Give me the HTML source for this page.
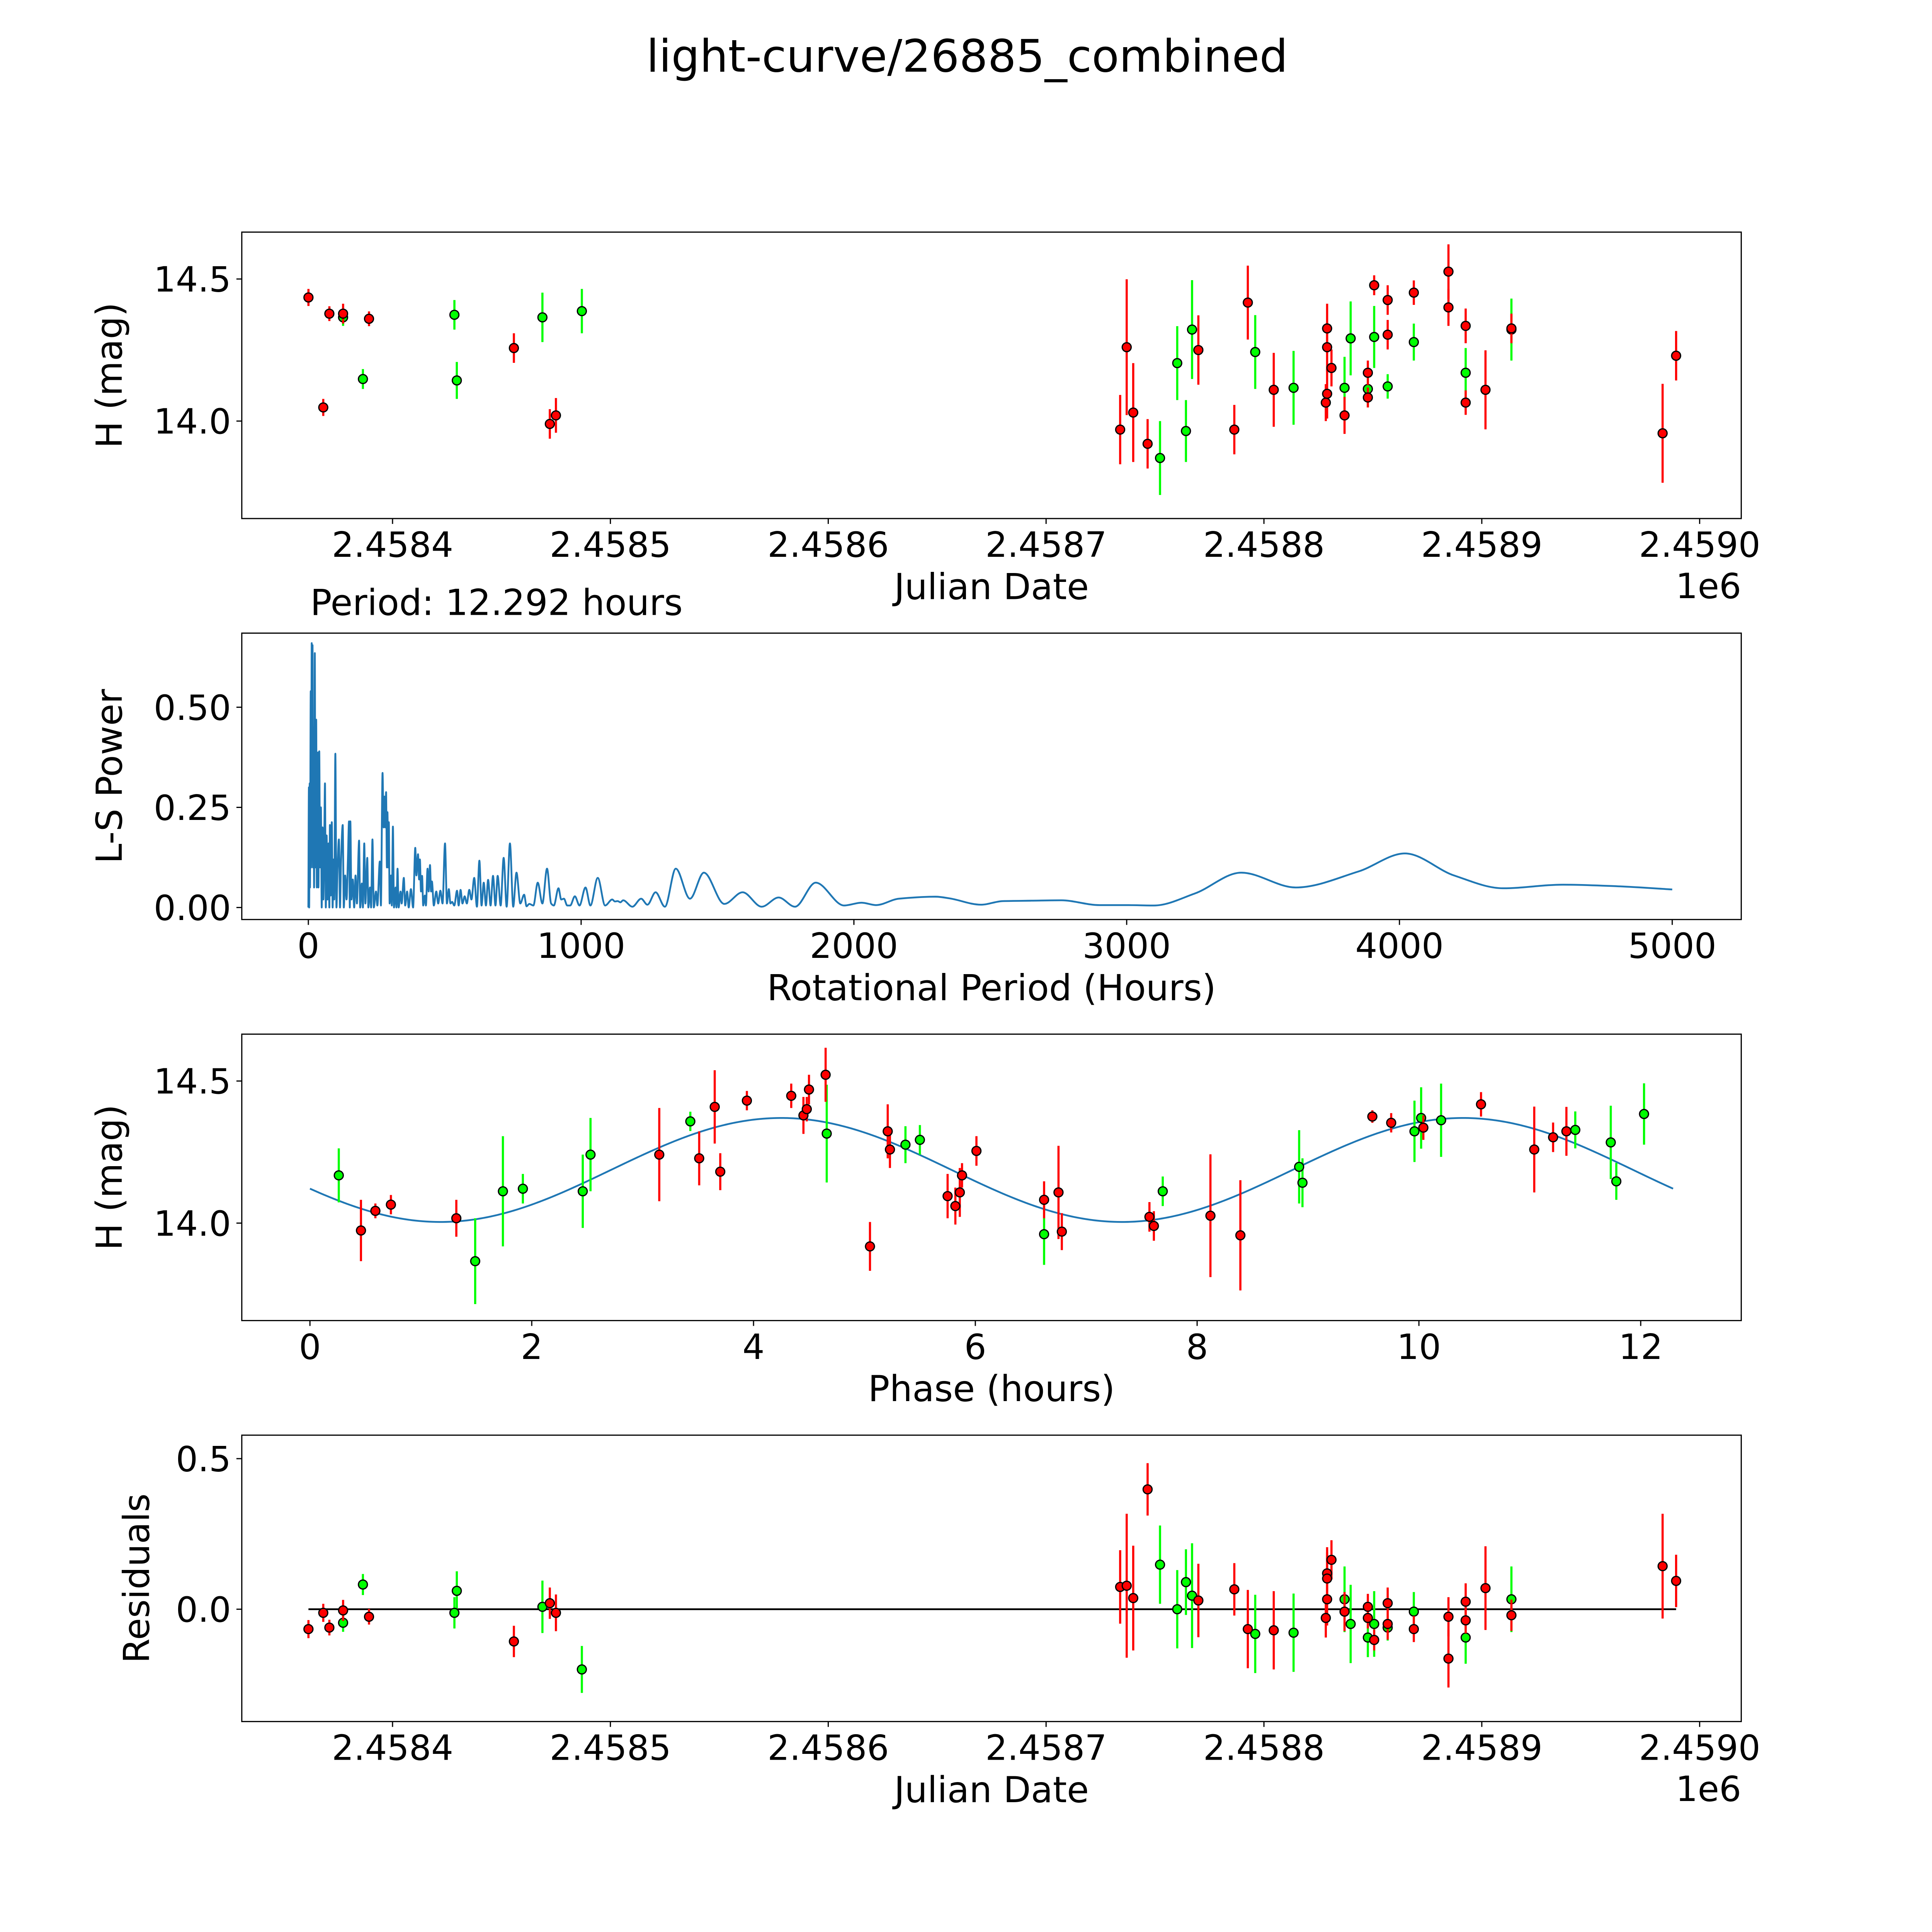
<!DOCTYPE html>
<html><head><meta charset="utf-8"><title>light-curve/26885_combined</title>
<style>html,body{margin:0;padding:0;background:#fff;overflow:hidden;width:5400px;height:5400px}svg{display:block}text{font-family:"DejaVu Sans","Liberation Sans",sans-serif;fill:#000}</style>
</head><body>
<svg id="fig" xmlns="http://www.w3.org/2000/svg" width="5400" height="5400" viewBox="0 0 5825 5825">
<rect width="5825" height="5825" fill="#fff"/>
<text x="2700" y="200" font-size="125" text-anchor="middle">light-curve/26885_combined</text>
<text x="866" y="1717" font-size="100">Period: 12.292 hours</text>
</svg>
<script>
// ---- Panel 1 / 4 data (Julian Date) ----
const redJD=[2458361.4,2458368.2,2458371,2458377.3,2458389.2,2458455.7,2458472.2,2458475,2458734,2458737,2458740,2458746.6,2458769.9,2458786.4,2458792.6,2458804.5,2458829,2458829,2458829,2458828.4,2458831,2458837,2458847.7,2458847.7,2458850.6,2458856.8,2458856.8,2458868.8,2458884.7,2458884.7,2458892.6,2458892.6,2458901.7,2458913.6,2458983,2458989.2];
const redMag=[14.435,14.048,14.378,14.378,14.36,14.257,13.99,14.02,13.97,14.26,14.03,13.92,14.25,13.97,14.417,14.11,14.326,14.26,14.096,14.065,14.187,14.02,14.17,14.083,14.478,14.426,14.304,14.452,14.526,14.4,14.335,14.065,14.11,14.326,13.957,14.23];
const redErr=[.03,.03,.026,.035,.026,.052,.052,.061,.122,.239,.174,.087,.122,.087,.13,.13,.087,.087,.087,.065,.065,.065,.043,.035,.035,.052,.052,.043,.096,.065,.061,.043,.139,.052,.174,.087];
const greenJD=[2458377.3,2458386.4,2458428.4,2458429.5,2458468.8,2458486.9,2458752.3,2458760.2,2458764.2,2458767,2458796,2458813.6,2458837,2458839.8,2458847.7,2458850.6,2458856.8,2458868.8,2458892.6,2458913.6];
const greenMag=[14.365,14.148,14.374,14.143,14.365,14.387,13.87,14.204,13.965,14.322,14.243,14.117,14.117,14.291,14.113,14.296,14.122,14.278,14.17,14.322];
const greenErr=[.03,.035,.052,.065,.087,.078,.13,.13,.109,.174,.13,.13,.109,.13,.065,.109,.043,.065,.087,.109];
const redResid=[-0.066,-0.012,-0.061,-0.004,-0.025,-0.107,0.02,-0.012,0.074,0.078,0.037,0.398,0.029,0.066,-0.066,-0.07,0.119,0.102,0.033,-0.029,0.164,-0.008,0.008,-0.029,-0.102,-0.049,0.02,-0.066,-0.164,-0.025,0.025,-0.037,0.07,-0.02,0.143,0.094];
const greenResid=[-0.045,0.082,-0.012,0.061,0.008,-0.2,0.148,0,0.09,0.045,-0.082,-0.078,0.033,-0.049,-0.094,-0.049,-0.061,-0.008,-0.094,0.033];
// ---- Panel 3 data (phase) ----
const redPhase=[0.46,0.59,0.73,1.32,3.15,3.51,3.65,3.70,3.94,4.34,4.45,4.48,4.50,4.65,5.05,5.21,5.23,5.75,5.82,5.86,5.88,6.01,6.62,6.75,6.78,7.57,7.61,8.12,8.39,9.58,9.75,10.04,10.56,11.04,11.21,11.33];
const redPhaseMag=[13.974,14.043,14.065,14.017,14.241,14.228,14.409,14.181,14.431,14.448,14.379,14.401,14.47,14.522,13.918,14.323,14.259,14.095,14.06,14.108,14.168,14.254,14.082,14.108,13.97,14.022,13.99,14.026,13.957,14.375,14.353,14.336,14.418,14.259,14.302,14.323];
const redPhaseErr=[.108,.026,.034,.065,.164,.095,.129,.065,.034,.043,.065,.043,.052,.095,.086,.095,.065,.078,.065,.086,.043,.052,.065,.164,.065,.052,.052,.216,.194,.022,.034,.043,.043,.151,.052,.086];
const greenPhase=[0.26,1.49,1.74,1.92,2.46,2.53,3.43,4.66,5.37,5.50,6.62,7.69,8.92,8.95,9.96,10.02,10.20,11.41,11.73,11.78,12.03];
const greenPhaseMag=[14.168,13.866,14.112,14.121,14.112,14.241,14.358,14.315,14.276,14.293,13.961,14.112,14.198,14.142,14.323,14.37,14.362,14.328,14.284,14.147,14.384];
const greenPhaseErr=[.095,.151,.194,.052,.129,.129,.034,.172,.065,.052,.108,.052,.129,.086,.108,.108,.129,.065,.129,.065,.108];
// fit: [mean mag, amplitude, phase of maximum, half period (h), full period (h)]
const fitParams=[14.187,0.183,4.25,6.146,12.292];
// ---- Panel 2 periodogram ----
const lsPeriod=[0,2,3,4.9,6,8.7,10,12.3,14,15.4,17,19,21,23.7,26,28.8,31,33,35,37,40,43,46,49,52,55,58,61,64,67,70,74,77,79,82,86,89,92,95,99,103,107,112,116,120,126,130,135,140,145,149,152,154,158,163,168,173,178,186,190,196,200,205,209,216,220,226,230,235,240,248,253,262,266,272,276,279,282,285,288,290,293,295,298,303,306,310,314,320,323,327,331,338,342,350,355,362,368,376,384,392,396,402,406,409,413,417,421,427,431,437,441,446,450,453,460,469,476,484,492,501,508,515,521,527,535,545,551,558,565,573,581,590,598,608,618,627,635,643,651,659,668,677,686,694,705,716,727,739,751,763,777,791,800,810,825,841,858,875,890,900,917,927,937,949,960,977,994,1016,1034,1061,1088,1114,1124,1134,1144,1154,1188,1220,1243,1273,1307,1347,1399,1450,1525,1592,1662,1724,1784,1860,1964,2028,2081,2165,2299,2349,2466,2546,2650,2760,2900,3000,3100,3250,3420,3620,3850,4020,4200,4380,4600,4800,5000];
const lsPower=[0,0.3,0,0.31,0.05,0.54,0.1,0.66,0.2,0.655,0.1,0.45,0.05,0.635,0.1,0.469,0.05,0.3,0.387,0.05,0.39,0.1,0.25,0,0.2,0.02,0.15,0.31,0,0.18,0.02,0.16,0,0.206,0.03,0.213,0,0.12,0.02,0.384,0,0.1,0.17,0,0.12,0.206,0,0.08,0.02,0.12,0.215,0,0.215,0.02,0.07,0,0.08,0.01,0.167,0,0.06,0,0.16,0.01,0.124,0,0.05,0,0.17,0,0.04,0.005,0.115,0.005,0.336,0.2,0.277,0.2,0.288,0.1,0.238,0.1,0.213,0.01,0.08,0.005,0.202,0,0.05,0,0.097,0,0.04,0.01,0.074,0.005,0.04,0,0.046,0,0.149,0.08,0.133,0.07,0.12,0.04,0.079,0.005,0.03,0.005,0.097,0.04,0.106,0.04,0.065,0.005,0.04,0.01,0.042,0.01,0.16,0.01,0.046,0.01,0.014,0.005,0.042,0.005,0.044,0.01,0.028,0.01,0.044,0.02,0.074,0.002,0.117,0.005,0.062,0.005,0.069,0.005,0.079,0.005,0.079,0.005,0.124,0.002,0.16,0.002,0.087,0.01,0.032,0.003,0.009,0.005,0.062,0.01,0.097,0.01,0.005,0.048,0.02,0.022,0.005,0.005,0.028,0.005,0.05,0.005,0.074,0.005,0.02,0.015,0.016,0.013,0.018,0.002,0.022,0.007,0.038,0.002,0.097,0.022,0.087,0.009,0.038,0.002,0.025,0.002,0.062,0.005,0.012,0.006,0.022,0.027,0.023,0.007,0.016,0.017,0.018,0.006,0.006,0.005,0.035,0.087,0.05,0.09,0.135,0.08,0.048,0.057,0.053,0.045];
const jdTicks=[2458400,2458500,2458600,2458700,2458800,2458900,2459000];
const jdTickLabels=["2.4584","2.4585","2.4586","2.4587","2.4588","2.4589","2.4590"];
const magTicks=[14.0,14.5];const magTickLabels=["14.0","14.5"];
const lsXTicks=[0,1000,2000,3000,4000,5000];const lsYTicks=[0,0.25,0.5];const lsYTickLabels=["0.00","0.25","0.50"];
const phTicks=[0,2,4,6,8,10,12];const resTicks=[0,0.5];const resTickLabels=["0.0","0.5"];

const NS="http://www.w3.org/2000/svg";const svg=document.getElementById('fig');
function el(tag,attrs,parent,name,inter){const e=document.createElementNS(NS,tag);for(const k in attrs)e.setAttribute(k,attrs[k]);


(parent||svg).appendChild(e);return e;}
const L=675,R=4861;
function lin(d0,d1,p0,p1){return v=>p0+(v-d0)/(d1-d0)*(p1-p0);}
function panel(name,top,bot,xlim,ylim,xt,xtl,yt,ytl,xlabel,ylabel,ylabelX,offset){
 const g=el('g',{},svg,name,false);
 const sx=lin(xlim[0],xlim[1],L,R),sy=lin(ylim[0],ylim[1],bot,top);
 const clip=el('clipPath',{id:name+'-clip'},g,name+'-clip',false);
 el('rect',{x:L,y:top,width:R-L,height:bot-top},clip,'clip-rect',false);
 const plot=el('g',{'clip-path':'url(#'+name+'-clip)'},g,name+'-plot-area',false);
 el('rect',{x:L,y:top,width:R-L,height:bot-top,fill:'none',stroke:'#000','stroke-width':3.3},g,name+'-frame',false);
 xt.forEach((v,i)=>{const x=sx(v);el('line',{x1:x,x2:x,y1:bot,y2:bot+15,stroke:'#000','stroke-width':3.3},g,'x-tick',false);
  const t=el('text',{x:x,y:bot+107,'font-size':97,'text-anchor':'middle'},g,'x-tick-label',false);t.textContent=xtl[i];});
 yt.forEach((v,i)=>{const y=sy(v);el('line',{x1:L-15,x2:L,y1:y,y2:y,stroke:'#000','stroke-width':3.3},g,'y-tick',false);
  const t=el('text',{x:L-30,y:y+35,'font-size':97,'text-anchor':'end'},g,'y-tick-label',false);t.textContent=ytl[i];});
 const xl=el('text',{x:(L+R)/2,y:bot+225,'font-size':100,'text-anchor':'middle'},g,'x-axis-title',false);xl.textContent=xlabel;
 const yl=el('text',{x:ylabelX,y:(top+bot)/2,'font-size':100,'text-anchor':'middle',transform:'rotate(-90 '+ylabelX+' '+(top+bot)/2+')'},g,'y-axis-title',false);yl.textContent=ylabel;
 if(offset){const o=el('text',{x:R,y:bot+222,'font-size':97,'text-anchor':'end'},g,'x-offset-label',false);o.textContent=offset;}
 return {g:plot,sx,sy};
}
function scatter(p,xs,ys,es,color,name){
 const g=el('g',{},p.g,name,false);
 xs.forEach((x,i)=>{const X=p.sx(x);el('line',{x1:X,x2:X,y1:p.sy(ys[i]-es[i]),y2:p.sy(ys[i]+es[i]),stroke:color,'stroke-width':6},g,name+'-errorbar',false);});
 xs.forEach((x,i)=>{el('circle',{cx:p.sx(x),cy:p.sy(ys[i]),r:12.5,fill:color,stroke:'#000','stroke-width':3.5},g,name+'-point',false);});
}
const magLim=[13.657,14.665];
const p1=panel('light-curve-panel',648,1447.6,[2458330.8,2459019.1],magLim,jdTicks,jdTickLabels,magTicks,magTickLabels,'Julian Date','H (mag)',340,'1e6');
scatter(p1,greenJD,greenMag,greenErr,'#00ff00','green-series');
scatter(p1,redJD,redMag,redErr,'#ff0000','red-series');
const p2=panel('periodogram-panel',1767.5,2567,[-244,5253],[-0.030,0.685],lsXTicks,lsXTicks.map(String),lsYTicks,lsYTickLabels,'Rotational Period (Hours)','L-S Power',340,null);
(function(){const xs=lsPeriod.map(p2.sx),ys=lsPower.map(p2.sy),n=xs.length;
 const d=[],m=[];for(let i=0;i<n-1;i++)d.push((ys[i+1]-ys[i])/(xs[i+1]-xs[i]));
 for(let i=0;i<n;i++){if(i==0)m.push(d[0]);else if(i==n-1)m.push(d[n-2]);else m.push(d[i-1]*d[i]<=0?0:2/(1/d[i-1]+1/d[i]));}
 let s='M'+xs[0]+','+ys[0];
 for(let i=0;i<n-1;i++){const h=xs[i+1]-xs[i];s+=' C'+(xs[i]+h/3)+','+(ys[i]+m[i]*h/3)+' '+(xs[i+1]-h/3)+','+(ys[i+1]-m[i+1]*h/3)+' '+xs[i+1]+','+ys[i+1];}
 el('path',{d:s,fill:'none',stroke:'#1f77b4','stroke-width':5,'stroke-linejoin':'round'},p2.g,'periodogram-line',false);})();
const p3=panel('phase-panel',2887,3686.6,[-0.6146,12.9066],magLim,phTicks,phTicks.map(String),magTicks,magTickLabels,'Phase (hours)','H (mag)',340,null);
(function(){let s='';for(let i=0;i<=400;i++){const ph=fitParams[4]*i/400;const v=fitParams[0]+fitParams[1]*Math.cos(2*Math.PI*(ph-fitParams[2])/fitParams[3]);s+=(i?' L':'M')+p3.sx(ph)+','+p3.sy(v);}
 el('path',{d:s,fill:'none',stroke:'#1f77b4','stroke-width':5},p3.g,'fit-curve',false);})();
scatter(p3,greenPhase,greenPhaseMag,greenPhaseErr,'#00ff00','green-phase-series');
scatter(p3,redPhase,redPhaseMag,redPhaseErr,'#ff0000','red-phase-series');
const p4=panel('residuals-panel',4006.5,4806,[2458330.8,2459019.1],[-0.373,0.578],jdTicks,jdTickLabels,resTicks,resTickLabels,'Julian Date','Residuals',416,'1e6');
el('line',{x1:p4.sx(2458361.4),x2:p4.sx(2458989.2),y1:p4.sy(0),y2:p4.sy(0),stroke:'#000','stroke-width':5},p4.g,'zero-line',false);
scatter(p4,greenJD,greenResid,greenErr,'#00ff00','green-residuals');
scatter(p4,redJD,redResid,redErr,'#ff0000','red-residuals');
</script>
</body></html>
